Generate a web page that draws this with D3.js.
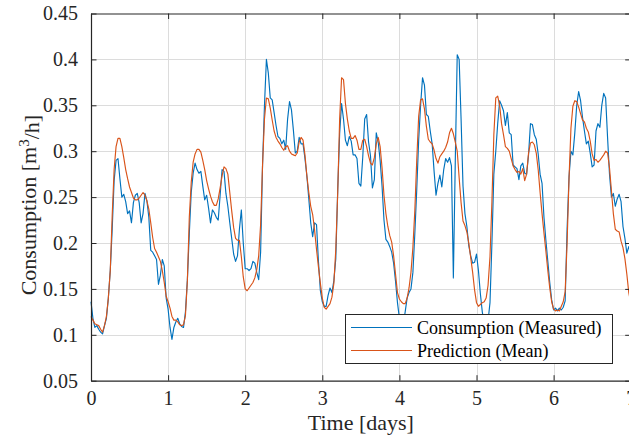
<!DOCTYPE html>
<html>
<head>
<meta charset="utf-8">
<script src="https://cdn.jsdelivr.net/npm/d3@7"></script>
<style>
  html, body { margin: 0; padding: 0; background: #fff; }
  svg { display: block; font-family: "Liberation Serif", "Times New Roman", serif; }
</style>
</head>
<body>
<svg id="chart" width="629" height="443"></svg>
<script>
const sampleStepDays = 1 / 40;

const measured = [
  0.136,0.118,0.108,0.110,0.106,0.103,0.101,0.110,0.118,0.140,
  0.170,0.215,0.268,0.290,0.292,0.270,0.250,0.253,0.245,0.232,
  0.235,0.222,0.244,0.252,0.254,0.244,0.222,0.232,0.254,0.246,
  0.228,0.192,0.190,0.186,0.182,0.155,0.165,0.182,0.175,0.140,
  0.128,0.108,0.095,0.108,0.114,0.118,0.112,0.109,0.108,0.125,
  0.160,0.210,0.255,0.276,0.287,0.280,0.276,0.278,0.262,0.247,
  0.252,0.238,0.222,0.236,0.233,0.228,0.225,0.252,0.280,0.278,
  0.254,0.240,0.222,0.205,0.188,0.180,0.186,0.215,0.236,0.200,
  0.172,0.172,0.170,0.172,0.180,0.178,0.168,0.160,0.190,0.285,
  0.350,0.400,0.385,0.358,0.356,0.342,0.328,0.316,0.314,0.308,
  0.312,0.302,0.335,0.354,0.345,0.323,0.298,0.300,0.315,0.308,
  0.308,0.292,0.273,0.248,0.222,0.207,0.222,0.220,0.180,0.148,
  0.136,0.131,0.131,0.143,0.151,0.146,0.159,0.183,0.258,0.319,
  0.352,0.335,0.312,0.306,0.316,0.311,0.296,0.296,0.292,0.265,
  0.262,0.294,0.335,0.340,0.310,0.295,0.260,0.269,0.320,0.310,
  0.290,0.262,0.225,0.204,0.201,0.196,0.190,0.178,0.158,0.135,
  0.118,0.108,0.112,0.125,0.140,0.146,0.150,0.168,0.210,0.258,
  0.312,0.350,0.380,0.372,0.340,0.338,0.322,0.308,0.278,0.252,
  0.265,0.274,0.261,0.280,0.292,0.288,0.293,0.284,0.162,0.290,
  0.405,0.400,0.335,0.262,0.232,0.218,0.197,0.186,0.178,0.179,
  0.188,0.170,0.145,0.125,0.112,0.108,0.115,0.135,0.200,0.275,
  0.300,0.330,0.355,0.350,0.344,0.328,0.342,0.320,0.318,0.285,
  0.283,0.281,0.269,0.284,0.287,0.276,0.275,0.296,0.330,0.329,
  0.318,0.313,0.297,0.275,0.265,0.228,0.203,0.180,0.157,0.138,
  0.127,0.129,0.126,0.129,0.127,0.130,0.137,0.215,0.272,0.300,
  0.296,0.320,0.350,0.365,0.355,0.337,0.322,0.308,0.311,0.298,
  0.283,0.285,0.322,0.330,0.326,0.350,0.363,0.358,0.315,0.275,
  0.250,0.254,0.240,0.248,0.253,0.245,0.218,0.205,0.189,0.196,
  0.188
];

const predicted = [
  0.120,0.116,0.112,0.111,0.110,0.106,0.103,0.110,0.120,0.140,
  0.170,0.230,0.280,0.305,0.314,0.314,0.305,0.293,0.280,0.270,
  0.261,0.255,0.249,0.247,0.247,0.249,0.252,0.255,0.252,0.246,
  0.237,0.222,0.206,0.194,0.190,0.185,0.180,0.170,0.157,0.142,
  0.136,0.129,0.120,0.116,0.116,0.114,0.111,0.110,0.111,0.121,
  0.159,0.228,0.266,0.288,0.297,0.302,0.302,0.299,0.290,0.280,
  0.268,0.259,0.251,0.245,0.241,0.241,0.248,0.260,0.273,0.283,
  0.281,0.275,0.255,0.235,0.217,0.205,0.203,0.203,0.185,0.163,
  0.150,0.148,0.151,0.154,0.157,0.162,0.171,0.186,0.220,0.285,
  0.335,0.358,0.357,0.347,0.334,0.322,0.315,0.311,0.308,0.304,
  0.301,0.305,0.306,0.300,0.297,0.296,0.295,0.298,0.310,0.315,
  0.312,0.296,0.273,0.255,0.240,0.231,0.214,0.193,0.174,0.156,
  0.140,0.130,0.128,0.131,0.134,0.141,0.156,0.193,0.255,0.335,
  0.380,0.378,0.352,0.335,0.322,0.314,0.314,0.317,0.312,0.302,
  0.302,0.312,0.313,0.305,0.295,0.287,0.285,0.293,0.308,0.315,
  0.305,0.282,0.252,0.232,0.218,0.208,0.201,0.186,0.166,0.146,
  0.139,0.136,0.134,0.134,0.140,0.151,0.168,0.195,0.235,0.290,
  0.338,0.356,0.357,0.346,0.327,0.313,0.310,0.308,0.301,0.292,
  0.287,0.294,0.297,0.300,0.304,0.310,0.320,0.325,0.319,0.310,
  0.300,0.271,0.244,0.224,0.219,0.212,0.200,0.184,0.168,0.149,
  0.135,0.131,0.133,0.135,0.136,0.140,0.154,0.185,0.245,0.318,
  0.358,0.360,0.350,0.330,0.318,0.305,0.303,0.300,0.292,0.284,
  0.280,0.277,0.278,0.275,0.281,0.268,0.275,0.298,0.309,0.310,
  0.307,0.298,0.280,0.255,0.232,0.211,0.191,0.170,0.151,0.136,
  0.128,0.126,0.127,0.126,0.131,0.136,0.147,0.200,0.270,0.325,
  0.349,0.355,0.354,0.348,0.341,0.334,0.332,0.325,0.321,0.311,
  0.297,0.290,0.291,0.288,0.290,0.293,0.296,0.300,0.298,0.282,
  0.257,0.232,0.215,0.213,0.212,0.202,0.195,0.183,0.166,0.146,
  0.135
];

const xTicks = [0, 1, 2, 3, 4, 5, 6, 7];
const yTicks = [0.05, 0.1, 0.15, 0.2, 0.25, 0.3, 0.35, 0.4, 0.45];
const seriesNames = ["Consumption (Measured)", "Prediction (Mean)"];
const seriesColors = ["#0072BD", "#D95319"];

// ---- layout ----
const svg = d3.select("#chart");
const pL = 91, pR = 630.7, pT = 13.5, pB = 380.7;
const x = d3.scaleLinear().domain([0, 7]).range([pL, pR]);
const y = d3.scaleLinear().domain([0.05, 0.45]).range([pB, pT]);

svg.append("rect").attr("width", 629).attr("height", 443).attr("fill", "#fff");

// grid
const grid = svg.append("g").attr("stroke", "#dcdcdc").attr("stroke-width", 1);
grid.selectAll(".gx").data(xTicks.slice(1, -1)).enter().append("line")
  .attr("x1", d => Math.round(x(d)) + 0.5).attr("x2", d => Math.round(x(d)) + 0.5)
  .attr("y1", pT).attr("y2", pB);
grid.selectAll(".gy").data(yTicks.slice(1, -1)).enter().append("line")
  .attr("y1", d => Math.round(y(d)) + 0.5).attr("y2", d => Math.round(y(d)) + 0.5)
  .attr("x1", pL).attr("x2", pR);

// series
const line = d3.line()
  .x((d, i) => x(i * sampleStepDays))
  .y(d => y(d));

const plot = svg.append("g");
plot.append("path").datum(measured)
  .attr("fill", "none").attr("stroke", seriesColors[0]).attr("stroke-width", 1.15)
  .attr("stroke-linejoin", "round").attr("d", line);
plot.append("path").datum(predicted)
  .attr("fill", "none").attr("stroke", seriesColors[1]).attr("stroke-width", 1.15)
  .attr("stroke-linejoin", "round").attr("d", line);

// axes (MATLAB-like box with inward ticks)
const axisColor = "#262626";
const tickLen = 5.5;
const xAxisBottom = svg.append("g").attr("transform", `translate(0,${pB})`)
  .call(d3.axisBottom(x).tickValues(xTicks).tickSizeInner(-tickLen).tickSizeOuter(0).tickPadding(10.5)
    .tickFormat(d3.format("d")));
const xAxisTop = svg.append("g").attr("transform", `translate(0,${pT})`)
  .call(d3.axisTop(x).tickValues(xTicks).tickSizeInner(-tickLen).tickSizeOuter(0).tickFormat(""));
const yAxisLeft = svg.append("g").attr("transform", `translate(${pL},0)`)
  .call(d3.axisLeft(y).tickValues(yTicks).tickSizeInner(-tickLen).tickSizeOuter(0).tickPadding(13)
    .tickFormat(d => String(+d.toFixed(2))));
const yAxisRight = svg.append("g").attr("transform", `translate(${pR},0)`)
  .call(d3.axisRight(y).tickValues(yTicks).tickSizeInner(-tickLen).tickSizeOuter(0).tickFormat(""));

[xAxisBottom, xAxisTop, yAxisLeft, yAxisRight].forEach(g => {
  g.select(".domain").attr("stroke", axisColor).attr("stroke-width", 1.2);
  g.selectAll(".tick line").attr("stroke", axisColor).attr("stroke-width", 1);
  g.selectAll(".tick text").attr("fill", axisColor)
    .style("font-family", "'Liberation Serif', serif").style("font-size", "20px");
});
xAxisBottom.selectAll(".tick text").attr("dy", "0.71em");

// axis labels
svg.append("text")
  .attr("x", (pL + pR) / 2).attr("y", 429.5)
  .attr("text-anchor", "middle").attr("fill", axisColor)
  .style("font-size", "22px").text("Time [days]");

const yl = svg.append("text")
  .attr("transform", `translate(36,${(pT + pB) / 2 + 8}) rotate(-90)`)
  .attr("text-anchor", "middle").attr("fill", axisColor)
  .style("font-size", "22px");
yl.append("tspan").text("Consumption [m");
yl.append("tspan").text("3").attr("dy", "-0.45em").style("font-size", "15px");
yl.append("tspan").text("/h]").attr("dy", "0.45em");

// legend
const lg = svg.append("g");
lg.append("rect").attr("x", 345.5).attr("y", 314.5).attr("width", 267).attr("height", 49)
  .attr("fill", "#fff").attr("stroke", axisColor).attr("stroke-width", 1);
seriesNames.forEach((name, i) => {
  const cy = 327.5 + i * 23;
  lg.append("line").attr("x1", 351).attr("x2", 412).attr("y1", cy).attr("y2", cy)
    .attr("stroke", seriesColors[i]).attr("stroke-width", 1.15);
  lg.append("text").attr("x", 417).attr("y", cy).attr("dy", "0.35em")
    .attr("fill", "#000").style("font-size", "18px").text(name);
});
</script>
</body>
</html>
